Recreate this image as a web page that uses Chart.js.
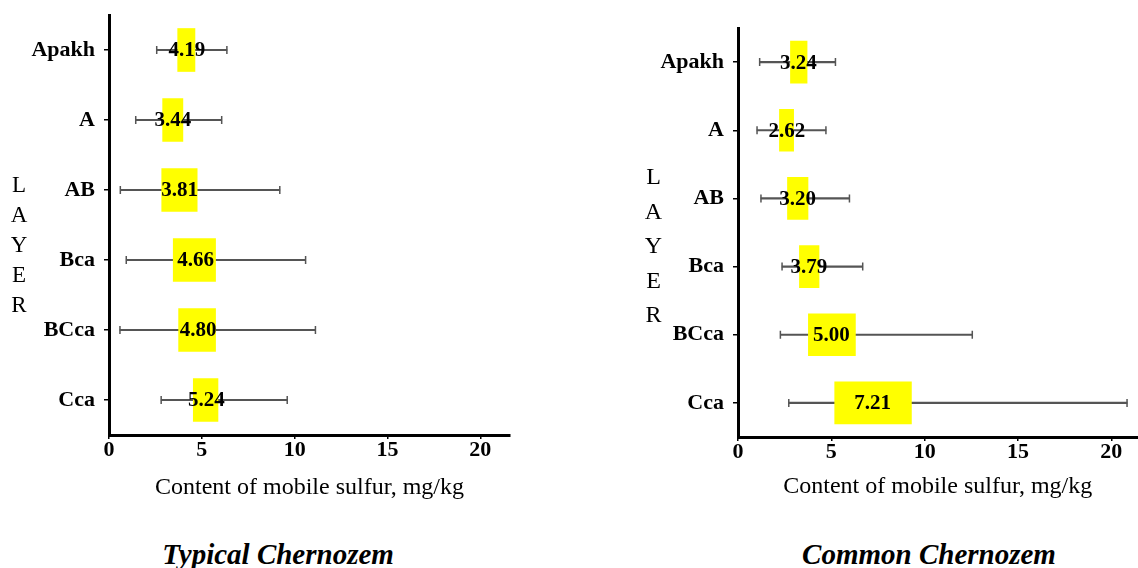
<!DOCTYPE html>
<html>
<head>
<meta charset="utf-8">
<script src="https://cdn.jsdelivr.net/npm/chart.js@4.4.1/dist/chart.umd.min.js"></script>
<style>
  html, body { margin: 0; padding: 0; background: #fff; overflow: hidden; }
  body { width: 1138px; height: 568px; position: relative; font-family: "Liberation Serif", serif; overflow: hidden; }
  .box { position: absolute; }
  .layer { position: absolute; text-align: center; color: #000; font-family: "Liberation Serif", serif; }
  .layer span { display: block; }
  .caption { position: absolute; font-family: "Liberation Serif", serif; font-weight: bold; font-style: italic; font-size: 29px; line-height: 1; color: #000; white-space: nowrap; transform: translateX(-50%); }
</style>
</head>
<body>
<div class="box" id="leftBox" style="left:0;top:0;width:540px;height:506px;"><canvas id="left"></canvas></div>
<div class="box" id="rightBox" style="left:620px;top:0;width:523px;height:505px;"><canvas id="right"></canvas></div>

<div class="layer" style="left:7px;top:170px;width:24px;font-size:23px;line-height:30px;">
  <span>L</span><span>A</span><span>Y</span><span>E</span><span>R</span>
</div>
<div class="layer" style="left:641px;top:159px;width:25px;font-size:24px;line-height:34.5px;">
  <span>L</span><span>A</span><span>Y</span><span>E</span><span>R</span>
</div>

<div class="caption" style="left:278px;top:540px;">Typical Chernozem</div>
<div class="caption" style="left:929px;top:540px;">Common Chernozem</div>

<script>
// ---- Data ----
const categories = ['Apakh', 'A', 'AB', 'Bca', 'BCca', 'Cca'];
const xTickValues = [0, 5, 10, 15, 20];
const xAxisTitle = 'Content of mobile sulfur, mg/kg';

// Typical Chernozem
const typicalMean    = [4.19, 3.44, 3.81, 4.66, 4.80, 5.24];
const typicalBoxLow  = [3.70, 2.89, 2.84, 3.46, 3.75, 4.54];
const typicalBoxHigh = [4.63, 3.98, 4.75, 5.74, 5.74, 5.87];
const typicalMin     = [2.57, 1.44, 0.61, 0.93, 0.59, 2.81];
const typicalMax     = [6.35, 6.07, 9.20, 10.59, 11.12, 9.60];

// Common Chernozem
const commonMean    = [3.24, 2.62, 3.20, 3.79, 5.00, 7.21];
const commonBoxLow  = [2.81, 2.22, 2.65, 3.29, 3.77, 5.18];
const commonBoxHigh = [3.70, 2.98, 3.75, 4.34, 6.29, 9.29];
const commonMin     = [1.16, 1.02, 1.23, 2.36, 2.27, 2.72];
const commonMax     = [5.22, 4.71, 5.97, 6.68, 12.55, 20.84];

Chart.defaults.font.family = '"Liberation Serif", serif';
Chart.defaults.color = '#000';

function meanLabelPlugin(means) {
  return {
    id: 'meanLabels',
    afterDatasetsDraw(chart) {
      const { ctx, scales: { x, y } } = chart;
      ctx.save();
      ctx.font = 'bold 21px "Liberation Serif"';
      ctx.fillStyle = '#000';
      ctx.textAlign = 'center';
      ctx.textBaseline = 'middle';
      means.forEach((m, i) => {
        ctx.fillText(m.toFixed(2), x.getPixelForValue(m), y.getPixelForValue(i) + 1);
      });
      ctx.restore();
    }
  };
}

function makeChart(id, cfg) {
  const whisker = cfg.min.map((v, i) => [v, cfg.max[i]]);
  const boxes = cfg.lo.map((v, i) => [v, cfg.hi[i]]);
  const capsMin = cfg.min.map((v, i) => ({ x: v, y: categories[i] }));
  const capsMax = cfg.max.map((v, i) => ({ x: v, y: categories[i] }));
  const capStyle = {
    type: 'line', showLine: false, pointStyle: 'line', rotation: 90,
    pointRadius: 4, pointBorderColor: '#555', pointBorderWidth: 1.5, borderColor: '#555', order: 2
  };
  return new Chart(document.getElementById(id), {
    type: 'bar',
    data: {
      labels: categories,
      datasets: [
        { type: 'bar', data: whisker, backgroundColor: '#555', barThickness: 1.5, grouped: false, order: 3 },
        Object.assign({ data: capsMin }, capStyle),
        Object.assign({ data: capsMax }, capStyle),
        { type: 'bar', data: boxes, backgroundColor: '#ffff00', barThickness: cfg.barThickness, grouped: false, order: 1 }
      ]
    },
    options: {
      indexAxis: 'y',
      responsive: true,
      maintainAspectRatio: false,
      animation: false,
      events: [],
      layout: { padding: cfg.padding },
      plugins: { legend: { display: false }, tooltip: { enabled: false } },
      scales: {
        x: {
          type: 'linear', min: 0, max: cfg.xMax,
          afterBuildTicks: (s) => { s.ticks = xTickValues.map(v => ({ value: v })); },
          afterFit: (s) => { s.height = cfg.xHeight; s.paddingLeft = 0; s.paddingRight = 0; },
          border: { display: true, color: '#000', width: 3 },
          grid: { display: true, drawOnChartArea: false, drawTicks: true, tickLength: 4, color: '#000', lineWidth: 1.5 },
          ticks: { font: { size: 22, weight: 'bold' }, color: '#000', padding: -2, maxRotation: 0 },
          title: { display: true, text: xAxisTitle, font: { size: 24 }, color: '#000', padding: { top: 0, bottom: 4 } }
        },
        y: {
          type: 'category', offset: true,
          afterFit: (s) => { s.width = cfg.yWidth; s.paddingTop = 0; s.paddingBottom = 0; s.paddingLeft = 0; s.paddingRight = 0; },
          border: { display: true, color: '#000', width: 3 },
          grid: { display: true, offset: false, drawOnChartArea: false, drawTicks: true, tickLength: 5, color: '#000', lineWidth: 1.5 },
          ticks: { font: { size: 22, weight: 'bold' }, color: '#000', padding: 9 }
        }
      }
    },
    plugins: [meanLabelPlugin(cfg.mean)]
  });
}

makeChart('left', {
  mean: typicalMean, lo: typicalBoxLow, hi: typicalBoxHigh, min: typicalMin, max: typicalMax,
  xMax: 21.6, padding: { top: 15, right: 30, left: 0, bottom: 0 },
  yWidth: 109, xHeight: 71, barThickness: 43
});
makeChart('right', {
  mean: commonMean, lo: commonBoxLow, hi: commonBoxHigh, min: commonMin, max: commonMax,
  xMax: 21.4, padding: { top: 28, right: 0, left: 0, bottom: 0 },
  yWidth: 118, xHeight: 68, barThickness: 42
});
</script>
</body>
</html>
